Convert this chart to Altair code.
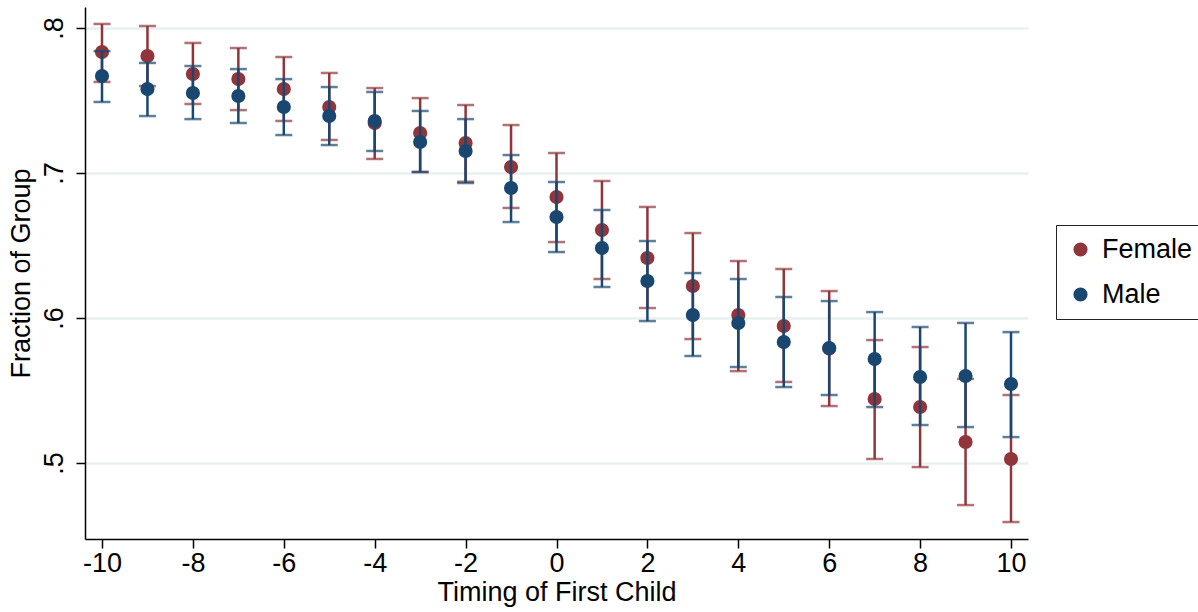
import altair as alt
import pandas as pd

timing = list(range(-10, 11))

female_mean = [0.7834, 0.7807, 0.7683, 0.7648, 0.7579, 0.7455, 0.7345, 0.7276, 0.7207, 0.7041,
               0.6834, 0.6607, 0.6414, 0.6221, 0.6021, 0.5945, 0.5790, 0.5441, 0.5386, 0.5145, 0.5028]
female_lo = [0.7628, 0.7600, 0.7476, 0.7434, 0.7359, 0.7228, 0.7097, 0.7007, 0.6940, 0.6759,
             0.6524, 0.6269, 0.6069, 0.5855, 0.5634, 0.5559, 0.5393, 0.5028, 0.4972, 0.4710, 0.4593]
female_hi = [0.8028, 0.8014, 0.7897, 0.7862, 0.7800, 0.7690, 0.7586, 0.7517, 0.7469, 0.7331,
             0.7138, 0.6945, 0.6766, 0.6586, 0.6393, 0.6338, 0.6186, 0.5848, 0.5800, 0.5580, 0.5469]

male_mean = [0.7669, 0.7579, 0.7552, 0.7531, 0.7455, 0.7393, 0.7359, 0.7214, 0.7152, 0.6897,
             0.6697, 0.6483, 0.6255, 0.6021, 0.5966, 0.5834, 0.5793, 0.5717, 0.5593, 0.5600, 0.5545]
male_lo = [0.7490, 0.7393, 0.7372, 0.7345, 0.7262, 0.7193, 0.7152, 0.7007, 0.6931, 0.6662,
           0.6455, 0.6214, 0.5979, 0.5738, 0.5662, 0.5524, 0.5469, 0.5386, 0.5262, 0.5248, 0.5179]
male_hi = [0.7841, 0.7759, 0.7738, 0.7717, 0.7648, 0.7593, 0.7559, 0.7428, 0.7372, 0.7124,
           0.6938, 0.6745, 0.6531, 0.6310, 0.6269, 0.6145, 0.6117, 0.6041, 0.5938, 0.5966, 0.5903]

groups = ["Female", "Male"]
colors = ["#90353b", "#1a476f"]
x_ticks = list(range(-10, 11, 2))
y_ticks = [0.5, 0.6, 0.7, 0.8]

rows = []
for sex, m, lo, hi in [("Female", female_mean, female_lo, female_hi),
                       ("Male", male_mean, male_lo, male_hi)]:
    for t, a, b, c in zip(timing, m, lo, hi):
        rows.append({"t": t, "sex": sex, "mean": a, "lo": b, "hi": c})
df = pd.DataFrame(rows)

FONT = "Liberation Sans"
FS = 27

xscale = alt.Scale(domain=[-10.374, 10.374], nice=False, zero=False)
yscale = alt.Scale(domain=[0.4476, 0.8145], nice=False, zero=False)
xaxis = alt.Axis(values=x_ticks, title="Timing of First Child", grid=False,
                 labelExpr="'' + datum.value", labelPadding=2, titlePadding=3)
yaxis = alt.Axis(values=y_ticks, title="Fraction of Group", grid=True,
                 labelExpr="substring(format(datum.value, '.1f'), 1)",
                 labelAngle=270, labelAlign="center", labelBaseline="bottom",
                 labelPadding=8, titlePadding=5)

X = alt.X("t:Q", scale=xscale, axis=xaxis)

color = alt.Color(
    "sex:N",
    scale=alt.Scale(domain=groups, range=colors),
    legend=alt.Legend(
        title=None, orient="none", legendX=971, legendY=218,
        labelFont=FONT, labelFontSize=FS, labelColor="black",
        symbolType="circle", symbolSize=200, symbolOpacity=1,
        symbolStrokeWidth=0, labelOffset=8, rowPadding=17,
        padding=11, strokeColor="#222222", fillColor="white",
    ),
)

layers = []
for sex, col in zip(groups, colors):
    base = alt.Chart(df).transform_filter(alt.datum.sex == sex)
    rule = base.mark_rule(strokeWidth=2.5, color=col).encode(
        x=X,
        y=alt.Y("lo:Q", scale=yscale, axis=yaxis),
        y2="hi:Q",
    )
    cap_lo = base.mark_tick(orient="horizontal", size=17, thickness=2.5, color=col).encode(
        x=X, y=alt.Y("lo:Q", scale=yscale, axis=yaxis)
    )
    cap_hi = base.mark_tick(orient="horizontal", size=17, thickness=2.5, color=col).encode(
        x=X, y=alt.Y("hi:Q", scale=yscale, axis=yaxis)
    )
    pts = base.mark_circle(size=200, opacity=1).encode(
        x=X, y=alt.Y("mean:Q", scale=yscale, axis=yaxis), color=color
    )
    layers += [rule, cap_lo, cap_hi, pts]

chart = alt.layer(*layers).properties(
    width=943, height=532,
    padding={"left": 85, "top": 7, "right": 170, "bottom": 73},
    autosize=alt.AutoSizeParams(type="none"),
    background="white",
).configure_view(stroke=None).configure_axis(
    domainColor="black", domainWidth=1.5,
    tickColor="black", tickWidth=1.5, tickSize=9,
    labelFont=FONT, labelFontSize=FS, labelColor="black",
    titleFont=FONT, titleFontSize=FS, titleFontWeight="normal", titleColor="black",
    gridColor="#e8f0f1", gridWidth=2.5,
)

chart.save("out.html", embed_options={"renderer": "svg", "actions": False})
